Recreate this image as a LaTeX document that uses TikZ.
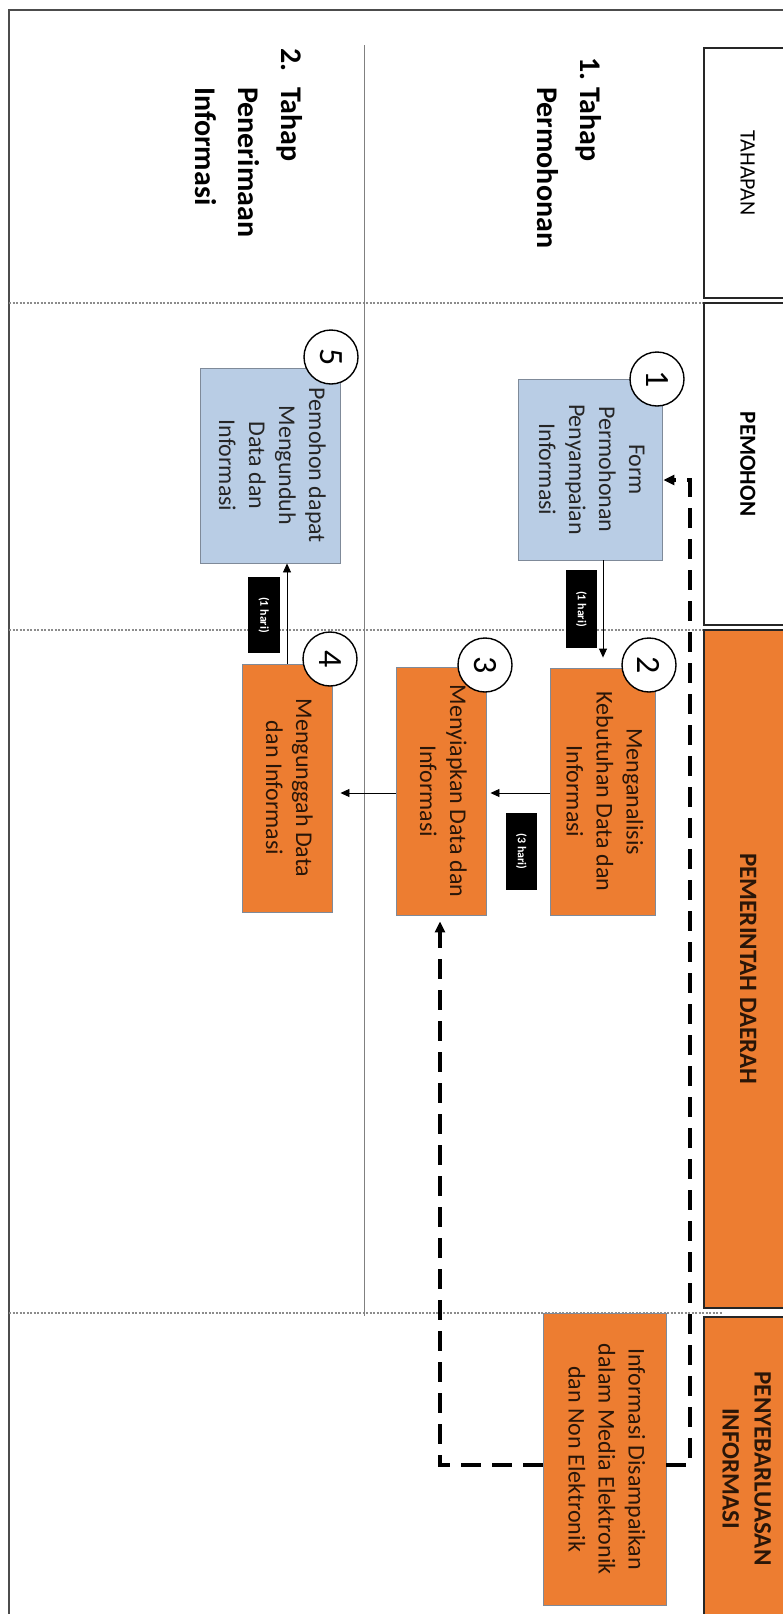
\documentclass[tikz,border=0pt]{standalone}
\usepackage{fontspec}
\setmainfont{Carlito}
\usepackage{graphicx}
\usetikzlibrary{arrows.meta}
\definecolor{org}{HTML}{ED7D31}
\definecolor{lblue}{HTML}{B9CDE5}
\definecolor{bgray}{HTML}{7F8A99}
\definecolor{otext}{HTML}{2A1608}
\newcommand{\rt}[1]{\rotatebox{-90}{\begin{tabular}{@{}c@{}}#1\end{tabular}}}
\newcommand{\rl}[1]{\rotatebox{-90}{\begin{tabular}{@{}l@{}l@{}}#1\end{tabular}}}
\begin{document}
\begin{tikzpicture}[x=1pt,y=-1pt,
 hdr/.style={draw=black!85, line width=1.6pt, minimum width=82pt, inner sep=0pt, text=black},
 proc/.style={draw=bgray, line width=0.9pt, inner sep=0pt, font=\fontsize{24}{30}\selectfont},
 bluebox/.style={proc, fill=lblue, text=black!85},
 orgbox/.style={proc, fill=org, text=otext},
 num/.style={circle, draw=black, line width=1.4pt, fill=white, minimum size=54pt, inner sep=0pt, font=\fontsize{34}{34}\selectfont},
 lbl/.style={fill=black, text=white, inner sep=0pt, font=\bfseries\fontsize{12}{12}\selectfont},
 arr/.style={-{Triangle[length=9pt,width=8pt]}, line width=0.9pt},
 darr/.style={-{Triangle[length=11pt,width=10pt]}, line width=3.3pt, dash pattern=on 20pt off 11pt},
 sep/.style={draw=black!45, line width=1.1pt, dash pattern=on 2pt off 1.5pt},
 phase/.style={inner sep=0pt, anchor=north, font=\bfseries\fontsize{30}{43}\selectfont},
]
\useasboundingbox (0,0) rectangle (783,1614);
\clip (0,0) rectangle (783,1614);
\fill[white] (0,0) rectangle (783,1614);
% frame
\draw[black!70, line width=1.5pt] (9,10) rectangle (800,1630);
% separators
\draw[sep] (9,303) -- (722,303);
\draw[sep] (9,630) -- (722,630);
\draw[sep] (9,1313) -- (722,1313);
\draw[black!50, line width=0.8pt] (364,45) -- (364,1316);
% headers
\node[hdr, minimum height=250pt, font=\fontsize{22}{22}\selectfont] (hT) at (745,173) {\rt{TAHAPAN}};
\node[hdr, minimum height=322pt, font=\bfseries\fontsize{23}{23}\selectfont] (hP) at (745,464) {\rt{PEMOHON}};
\node[hdr, fill=org, text=otext, minimum height=678pt, font=\bfseries\fontsize{25}{25}\selectfont] (hD) at (745,969) {\rt{PEMERINTAH DAERAH}};
\node[hdr, fill=org, text=otext, minimum height=303pt, font=\bfseries\fontsize{25}{32}\selectfont] (hI) at (745,1468.5) {\rt{PENYEBARLUASAN\\INFORMASI}};
% phase labels
\node[phase] (ph1) at (567.5,57) {\rl{\makebox[30pt][l]{1.} & Tahap\\ & Permohonan}};
\node[phase] (ph2) at (247.5,48) {\rl{\makebox[39pt][l]{2.} & Tahap\\ & Penerimaan\\ & Informasi}};
% process boxes
\node[bluebox, minimum width=144pt, minimum height=181pt] (b1) at (590,469.5) {\rt{Form\\Permohonan\\Penyampaian\\Informasi}};
\node[bluebox, minimum width=140pt, minimum height=195pt] (b5) at (270,465.5) {\rt{Pemohon dapat\\Mengunduh\\Data dan\\Informasi}};
\node[orgbox, minimum width=105pt, minimum height=247pt] (b2) at (602.5,791.5) {\rt{Menganalisis\\Kebutuhan Data dan\\Informasi}};
\node[orgbox, minimum width=90pt, minimum height=248pt] (b3) at (441,791) {\rt{Menyiapkan Data dan\\Informasi}};
\node[orgbox, minimum width=90pt, minimum height=248pt] (b4) at (287,788) {\rt{Mengunggah Data\\dan Informasi}};
\node[orgbox, minimum width=123pt, minimum height=292pt] (b6) at (604.5,1459) {\rt{Informasi Disampaikan\\dalam Media Elektronik\\dan Non Elektronik}};
% number circles
\node[num] (c1) at (657,379) {\rotatebox{-90}{1}};
\node[num] (c2) at (649,665) {\rotatebox{-90}{2}};
\node[num] (c3) at (485,665) {\rotatebox{-90}{3}};
\node[num] (c4) at (330,659) {\rotatebox{-90}{4}};
\node[num] (c5) at (331,357) {\rotatebox{-90}{5}};
% duration labels
\node[lbl, minimum width=31pt, minimum height=78pt] (l1) at (581.5,609) {\rotatebox{-90}{(1 hari)}};
\node[lbl, minimum width=31pt, minimum height=77pt] (l2) at (521.5,851.5) {\rotatebox{-90}{(3 hari)}};
\node[lbl, minimum width=32pt, minimum height=76pt] (l3) at (264,615) {\rotatebox{-90}{(1 hari)}};
% connectors
\coordinate (x1) at (603,0);
\coordinate (y1) at (0,793);
\draw[arr, shorten >=10pt] (x1 |- b1.south) -- (x1 |- b2.north);
\draw[arr, shorten >=4pt] (b2.west |- y1) -- (b3.east |- y1);
\draw[arr, shorten >=8pt] (b3.west |- y1) -- (b4.east |- y1);
\draw[arr] (b4.north) -- (b4.north |- b5.south);
\coordinate (d1) at (690,1465);
\coordinate (d2) at (690,480);
\coordinate (d3) at (440,1465);
\draw[darr, shorten >=1pt] (b6.east |- d1) -- (d1) -- (d2) -- (b1.east |- d2);
\draw[darr, shorten >=6pt] (b6.west |- d3) -- (d3) -- (d3 |- b3.south);
\end{tikzpicture}
\end{document}
